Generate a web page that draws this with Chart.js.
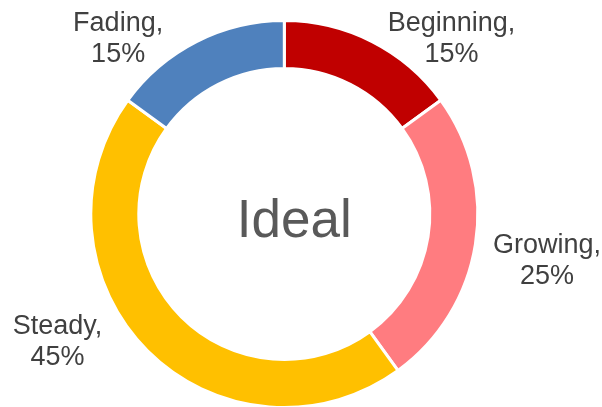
<!DOCTYPE html>
<html>
<head>
<meta charset="utf-8">
<script src="https://cdn.jsdelivr.net/npm/chart.js@4/dist/chart.umd.min.js"></script>
<style>
  html, body { margin: 0; padding: 0; background: #ffffff; }
  #wrap { width: 602px; height: 407px; position: relative; }
</style>
</head>
<body>
<div id="wrap"><canvas id="stageChart"></canvas></div>
<script>
// --- stage data ---
const stageNames = ['Beginning', 'Growing', 'Steady', 'Fading'];
const stageShares = [15, 25, 45, 15];
const stageColors = ['#C00000', '#FF7C80', '#FFC000', '#4F81BD'];
const centerTitle = 'Ideal';

// where each "name, value%" label sits relative to the outer edge of its slice (first line baseline)
const labelNudges = [[80, -12], [73, 9], [-91, -16], [-79, -12]];

const FONT = '"Liberation Sans", Arial, sans-serif';

// draws the outside labels and the word in the middle
const ringLabels = {
    id: 'ringLabels',
    afterDatasetsDraw(chart) {
        const ctx = chart.ctx;
        const meta = chart.getDatasetMeta(0);
        ctx.save();
        ctx.textAlign = 'center';
        ctx.textBaseline = 'alphabetic';
        ctx.fillStyle = '#404040';
        ctx.font = '27px ' + FONT;
        meta.data.forEach((arc, i) => {
            const mid = (arc.startAngle + arc.endAngle) / 2;
            const r = arc.outerRadius - 1.5;
            const ax = arc.x + Math.cos(mid) * r;
            const ay = arc.y + Math.sin(mid) * r;
            const x = ax + labelNudges[i][0];
            const y = ay + labelNudges[i][1];
            ctx.fillText(stageNames[i] + ',', x, y);
            ctx.fillText(stageShares[i] + '%', x, y + 31);
        });

        const arc0 = meta.data[0];
        ctx.fillStyle = '#595959';
        ctx.font = '53px ' + FONT;
        ctx.fillText(centerTitle, arc0.x + 10, arc0.y + 23);
        ctx.restore();
    }
};

const ctx = document.getElementById('stageChart').getContext('2d');
new Chart(ctx, {
    type: 'doughnut',
    data: {
        labels: stageNames,
        datasets: [{
            data: stageShares,
            backgroundColor: stageColors,
            borderColor: '#ffffff',
            borderWidth: 3,
            hoverOffset: 0
        }]
    },
    options: {
        responsive: true,
        maintainAspectRatio: false,
        animation: false,
        radius: 193.5,
        cutout: '75.2%',
        layout: { padding: { left: 0, right: 33.4, top: 21, bottom: 0 } },
        plugins: {
            legend: { display: false },
            tooltip: { enabled: false }
        }
    },
    plugins: [ringLabels]
});
</script>
</body>
</html>
